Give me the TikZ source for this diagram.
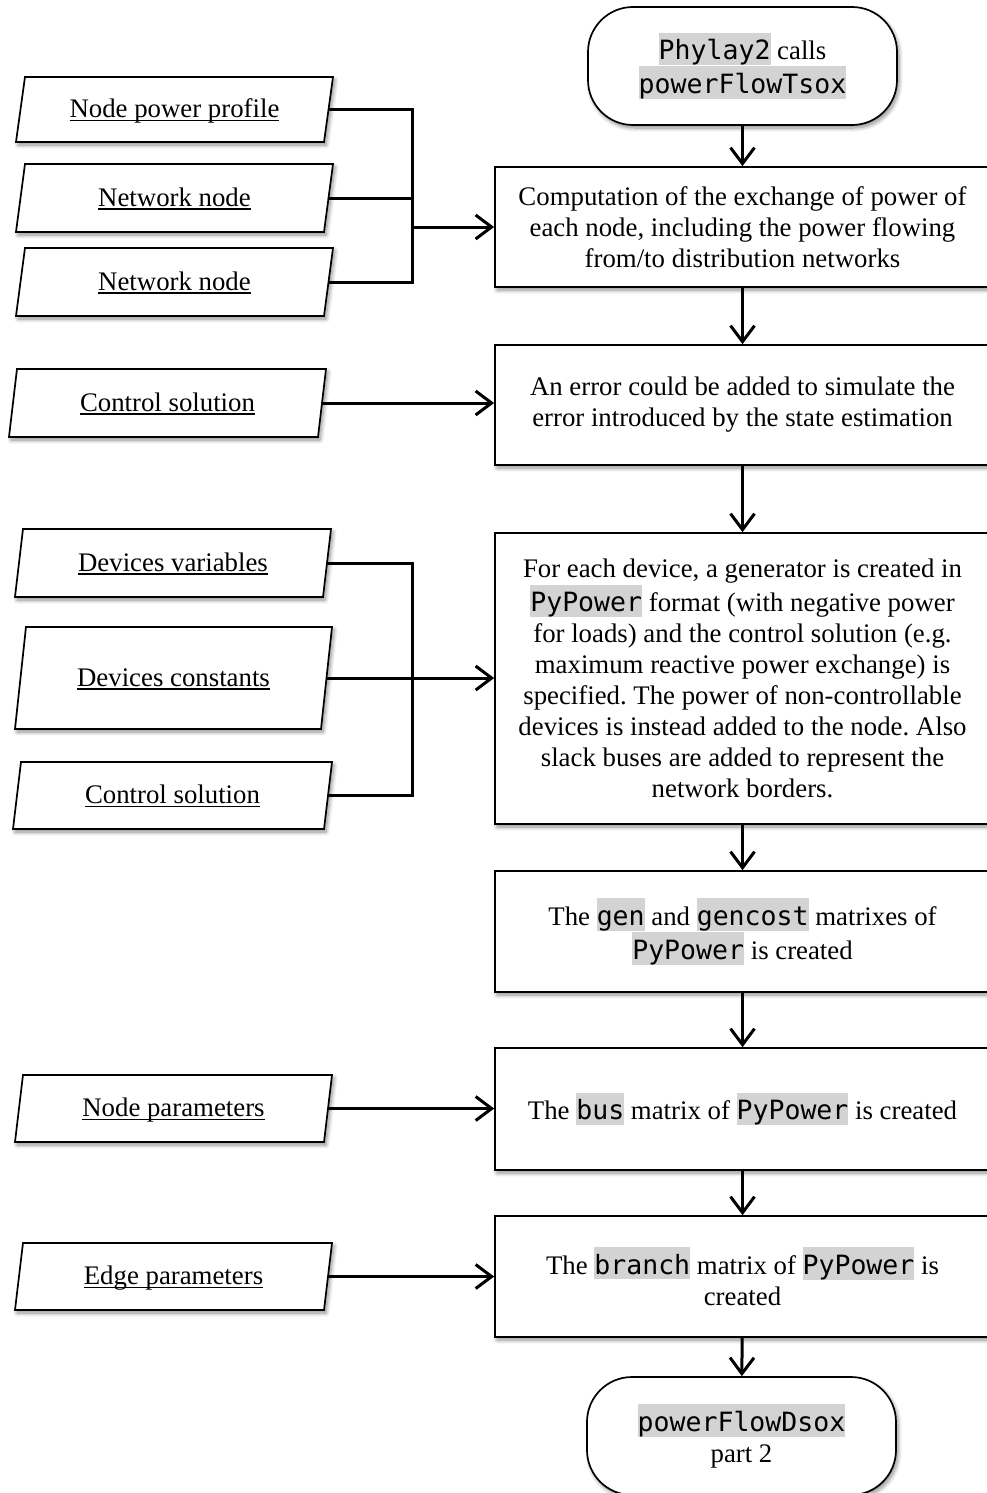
\documentclass[tikz,border=0pt]{standalone}
\usepackage{fontspec}
\setmainfont{Liberation Serif}
\setmonofont{DejaVu Sans Mono}[Scale=0.99]
\usetikzlibrary{arrows.meta,shadows.blur}
\definecolor{codegray}{RGB}{211,211,211}
\newcommand\code[1]{{\setlength{\fboxsep}{0pt}\colorbox{codegray}{\rule[-5pt]{0pt}{32pt}\ttfamily #1}}}
\newcommand\myul[1]{\smash{\raisebox{-8pt}{\setbox0\hbox{#1}\rlap{\rule[-3.5pt]{\wd0}{1.2pt}}\box0}}}
% #1 name, #2 bottom-left x, #3 top-right x, #4 top y, #5 bottom y, #6 skew, #7 text
\newcommand\datashape[7]{%
  \draw[datastyle] (#2,#5) -- (#2+#6,#4) -- (#3,#4) -- (#3-#6,#5) -- cycle;
  \node[datatext] (#1) at ({(#2+#3)/2},{(#4+#5)/2}) {\myul{#7}};
  \coordinate (#1-r) at ({#3-#6/2},{(#4+#5)/2});
}
\frenchspacing
\begin{document}
\begin{tikzpicture}[x=1pt,y=-1pt,
  font=\fontsize{26.8}{31}\selectfont\frenchspacing,
  shad/.style={blur shadow={shadow xshift=2pt, shadow yshift=-3pt, shadow blur steps=8, shadow blur radius=4pt, shadow opacity=45}},
  procbox/.style={draw, line width=1.7pt, fill=white, minimum width=495pt, align=center, inner sep=0pt, shad},
  termbox/.style={draw, line width=1.7pt, fill=white, rounded corners=45pt, minimum width=309pt, minimum height=118pt, align=center, inner sep=0pt, shad},
  datastyle/.style={draw, line width=1.7pt, fill=white, line join=miter, shad},
  datatext/.style={inner sep=0pt},
  conn/.style={line width=3pt},
  arr/.style={conn, -{Straight Barb[length=16pt,width=24pt]}}
]
\useasboundingbox (0,0) rectangle (986,1493);

% right column
\node[termbox] (t1) at (742.5,66) {\code{Phylay2} calls\\\code{powerFlowTsox}};
\node[procbox, minimum height=120pt] (b1) at (742.5,227) {Computation of the exchange of power of\\each node, including the power flowing\\from/to distribution networks};
\node[procbox, minimum height=120pt] (b2) at (742.5,405) {An error could be added to simulate the\\error introduced by the state estimation};
\node[procbox, minimum height=291pt] (b3) at (742.5,678.5) {For each device, a generator is created in\\\code{PyPower} format (with negative power\\for loads) and the control solution (e.g.\\maximum reactive power exchange) is\\specified. The power of non-controllable\\devices is instead added to the node. Also\\slack buses are added to represent the\\network borders.};
\node[procbox, minimum height=121pt] (b4) at (742.5,931.5) {The \code{gen} and \code{gencost} matrixes of\\\code{PyPower} is created};
\node[procbox, minimum height=122pt] (b5) at (742.5,1109) {The \code{bus} matrix of \code{PyPower} is created};
\node[procbox, minimum height=121pt] (b6) at (742.5,1276.5) {The \code{branch} matrix of \code{PyPower} is\\created};
\node[termbox] (t2) at (741.5,1436) {\code{powerFlowDsox}\\part 2};

% left column
\datashape{npp}{16}{333}{77}{142}{9}{Node power profile}
\datashape{nn1}{16}{333}{164}{232}{9}{Network node}
\datashape{nn2}{16}{333}{248}{316}{9}{Network node}
\datashape{cs1}{9}{326}{369}{437}{8}{Control solution}
\datashape{dv}{15}{331}{529}{597}{8}{Devices variables}
\datashape{dc}{15}{332}{627}{729}{11}{Devices constants}
\datashape{cs2}{13}{332}{762}{829}{8}{Control solution}
\datashape{np}{15}{332}{1075}{1142}{8}{Node parameters}
\datashape{ep}{15}{332}{1243}{1310}{8}{Edge parameters}

% vertical flow
\draw[arr] (t1) -- (b1);
\draw[arr] (b1) -- (b2);
\draw[arr] (b2) -- (b3);
\draw[arr] (b3) -- (b4);
\draw[arr] (b4) -- (b5);
\draw[arr] (b5) -- (b6);
\draw[arr] (b6) -- (t2);

% inputs
\coordinate (j1) at (412,227);
\draw[conn] (npp-r) -| (j1);
\draw[conn] (nn1-r) -- (nn1-r -| j1);
\draw[conn] (nn2-r) -| (j1);
\draw[arr] (j1) -- (b1.west);

\draw[arr] (cs1-r) -- (cs1-r -| b2.west);

\coordinate (j3) at (412,678);
\draw[conn] (dv-r) -| (j3);
\draw[conn] (cs2-r) -| (j3);
\draw[arr] (dc-r) -- (dc-r -| b3.west);

\draw[arr] (np-r) -- (np-r -| b5.west);
\draw[arr] (ep-r) -- (ep-r -| b6.west);
\end{tikzpicture}
\end{document}
